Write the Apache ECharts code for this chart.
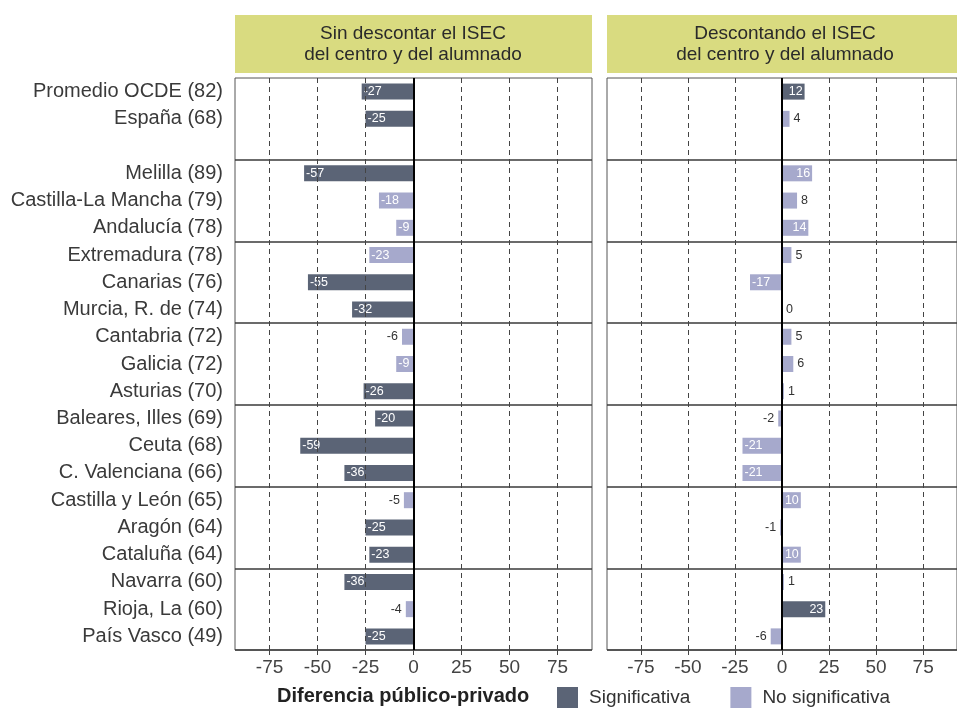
<!DOCTYPE html>
<html>
<head>
<meta charset="utf-8">
<script src="https://cdn.jsdelivr.net/npm/echarts@6/dist/echarts.min.js"></script>
<style>
html,body{margin:0;padding:0;background:#fff;}
#chart{width:957px;height:724px;}
</style>
</head>
<body>
<div id="chart"></div>
<script>
// ---------- data ----------
const categories = [
  'Promedio OCDE (82)', 'España (68)', '',
  'Melilla (89)', 'Castilla-La Mancha (79)', 'Andalucía (78)',
  'Extremadura (78)', 'Canarias (76)', 'Murcia, R. de (74)',
  'Cantabria (72)', 'Galicia (72)', 'Asturias (70)',
  'Baleares, Illes (69)', 'Ceuta (68)', 'C. Valenciana (66)',
  'Castilla y León (65)', 'Aragón (64)', 'Cataluña (64)',
  'Navarra (60)', 'Rioja, La (60)', 'País Vasco (49)'
];
const sinISEC =      [-27, -25, null, -57, -18, -9, -23, -55, -32, -6, -9, -26, -20, -59, -36, -5, -25, -23, -36, -4, -25];
const sinISECSig =   [1, 1, null, 1, 0, 0, 0, 1, 1, 0, 0, 1, 1, 1, 1, 0, 1, 1, 1, 0, 1];
const conISEC =      [12, 4, null, 16, 8, 14, 5, -17, 0, 5, 6, 1, -2, -21, -21, 10, -1, 10, 1, 23, -6];
const conISECSig =   [1, 0, null, 0, 0, 0, 0, 0, 0, 0, 0, 0, 0, 0, 0, 0, 0, 0, 0, 1, 0];
const xTicks = [-75, -50, -25, 0, 25, 50, 75];
const groupBreaks = [3, 6, 9, 12, 15, 18];
const panelTitles = ['Sin descontar el ISEC\ndel centro y del alumnado', 'Descontando el ISEC\ndel centro y del alumnado'];
const legendTitle = 'Diferencia público-privado';
const seriesNames = ['Significativa', 'No significativa'];

// ---------- style ----------
const FONT = 'Liberation Sans';
const SIG_COLOR = '#5b6476';
const NS_COLOR = '#a6a9cc';
const X_MIN = -93, X_MAX = 93;

const chart = echarts.init(document.getElementById('chart'), null, {renderer: 'canvas'});

function makeItems(values, sig, wantSig) {
  return values.map((v, i) => {
    if (v === null || sig[i] !== wantSig) return '-';
    const inside = Math.abs(v) >= 9;
    let position;
    if (inside) position = v < 0 ? 'insideLeft' : 'insideRight';
    else position = v < 0 ? 'left' : 'right';
    return {
      value: v,
      label: {
        show: true,
        position: position,
        distance: inside ? 2 : 4,
        color: inside ? '#ffffff' : '#333333',
        fontSize: 12.5,
        fontFamily: FONT,
        formatter: '{c}'
      }
    };
  });
}

const grids = [
  {left: 235, top: 78, width: 357, height: 572},
  {left: 607, top: 78, width: 357, height: 572}
];

const option = {
  animation: false,
  backgroundColor: '#ffffff',
  textStyle: {fontFamily: FONT},
  grid: grids.map(g => Object.assign({show: true, borderColor: '#555', borderWidth: 1, backgroundColor: '#fff', containLabel: false}, g)),
  xAxis: [0, 1].map(i => ({
    type: 'value', gridIndex: i, min: X_MIN, max: X_MAX,
    axisLine: {show: false},
    axisTick: {show: true, customValues: xTicks, length: 5, lineStyle: {color: '#444'}},
    axisLabel: {show: true, customValues: xTicks, fontSize: 19, color: '#444', margin: 8, fontFamily: FONT},
    splitLine: {show: false}
  })),
  yAxis: [0, 1].map(i => ({
    type: 'category', gridIndex: i, data: categories, inverse: true,
    axisLine: {show: false},
    axisTick: {show: i === 0, alignWithLabel: true, length: 6, lineStyle: {color: '#444'},
      interval: (idx) => categories[idx] !== ''},
    axisLabel: {show: i === 0, fontSize: 20, color: '#3a3a3a', margin: 12, fontFamily: FONT},
    splitLine: {show: true, interval: (idx) => groupBreaks.indexOf(idx) >= 0,
      lineStyle: {color: '#3a3a3a', width: 1.5}}
  })),
  legend: {
    data: seriesNames,
    left: 557, top: 687, padding: 0,
    itemWidth: 21, itemHeight: 21, itemGap: 40,
    icon: 'rect',
    textStyle: {fontSize: 19, color: '#333', fontFamily: FONT, padding: [0, 0, 0, 6]}
  },
  title: [{
    text: legendTitle, left: 277, top: 686, padding: 0,
    textStyle: {fontSize: 20, fontWeight: 'bold', color: '#222', fontFamily: FONT}
  }],
  graphic: panelTitles.map((t, i) => ({
    type: 'group', left: grids[i].left, top: 15,
    children: [
      {type: 'rect', shape: {x: 0, y: 0, width: grids[i].width, height: 58}, style: {fill: '#d9db80'}},
      {type: 'text', x: 178, y: 29, style: {text: t, fill: '#2a2a2a', font: '19px ' + FONT, textAlign: 'center', textVerticalAlign: 'middle', lineHeight: 21}}
    ]
  })),
  series: []
};

[[sinISEC, sinISECSig], [conISEC, conISECSig]].forEach((pair, gi) => {
  const [vals, sig] = pair;
  [1, 0].forEach((wantSig, k) => {
    const s = {
      name: seriesNames[k], type: 'bar', xAxisIndex: gi, yAxisIndex: gi,
      barWidth: 16, barGap: '-100%',
      itemStyle: {color: wantSig ? SIG_COLOR : NS_COLOR},
      data: makeItems(vals, sig, wantSig),
      z: 3
    };
    if (k === 0) {
      s.markLine = {
        silent: true, symbol: 'none', label: {show: false}, animation: false,
        data: xTicks.filter(t => t !== 0).map(t => ({xAxis: t, lineStyle: {color: '#444', width: 1, type: [5, 4]}}))
          .concat([{xAxis: 0, lineStyle: {color: '#000', width: 2, type: 'solid'}}])
      };
    }
    option.series.push(s);
  });
});

chart.setOption(option);
</script>
</body>
</html>
